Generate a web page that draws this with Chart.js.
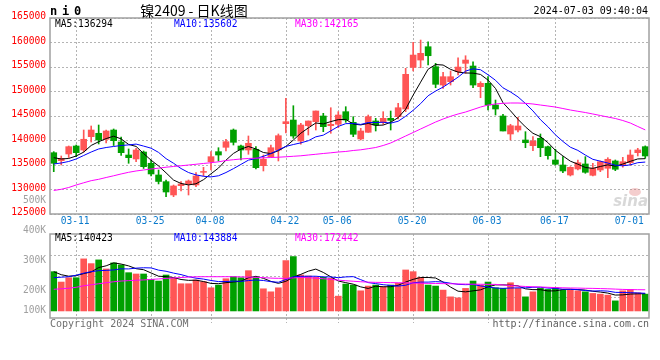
<!DOCTYPE html>
<html><head><meta charset="utf-8">
<script src="https://cdn.jsdelivr.net/npm/chart.js@4.4.1/dist/chart.umd.min.js"></script>
<style>
html,body{margin:0;padding:0;background:#fff;}
#wrap{position:relative;width:660px;height:360px;overflow:hidden;}
canvas{position:absolute;left:0;top:0;}
</style></head><body>
<div id="wrap"><canvas id="main" width="660" height="360"></canvas><canvas id="vol" width="660" height="360"></canvas></div>
<script>
// ---------------- data ----------------
const dates = ['03-06','03-07','03-08','03-11','03-12','03-13','03-14','03-15','03-18','03-19','03-20','03-21','03-22',
'03-25','03-26','03-27','03-28','03-29','04-01','04-02','04-03','04-08','04-09','04-10','04-11','04-12',
'04-15','04-16','04-17','04-18','04-19','04-22','04-23','04-24','04-25','04-26','04-29','04-30',
'05-06','05-07','05-08','05-09','05-10','05-13','05-14','05-15','05-16','05-17','05-20','05-21','05-22','05-23','05-24',
'05-27','05-28','05-29','05-30','05-31','06-03','06-04','06-05','06-06','06-07','06-11','06-12','06-13','06-14',
'06-17','06-18','06-19','06-20','06-21','06-24','06-25','06-26','06-27','06-28','07-01','07-02','07-03'];

const openP = [137510,135880,137250,138880,138060,140780,141470,140250,142140,139690,
137040,136230,137650,135350,132960,131600,128880,130780,131130,130920,
133510,135680,137720,138610,142140,138880,138060,138210,134860,136700,
138060,143430,144180,139900,143020,143840,145000,143020,143310,145880,
143710,140310,141670,143980,143710,144530,144860,146430,154930,156420,
159140,155060,151320,152000,154040,155750,155200,150980,151670,147240,
145000,141330,142140,140100,138940,140450,138740,136020,135000,132960,
134190,135210,132900,133980,134330,135820,135000,135470,137510,138740];

const highP = [137720,136840,138880,139080,142140,142960,143160,142140,142350,140710,
138270,138410,137860,136020,133980,131940,130920,131600,131940,133430,
134530,137720,138530,140250,142350,139080,140920,138740,137040,139080,
141330,148610,147100,143510,143980,146020,145550,146690,145880,146900,
144860,142490,145200,144530,145880,146020,147590,154730,160030,160500,
160160,155750,153910,154180,156890,157300,156080,152000,153020,148260,
145350,143310,144730,141800,140780,141330,138880,138210,136700,134660,
136020,136700,135350,135820,136490,136020,136570,138060,138410,138900];

const lowP = [133640,135000,136530,136700,137650,139690,139290,139490,138980,136940,
135350,135680,134290,132760,131130,128540,128540,129700,128880,130580,
132760,133980,135820,137860,139080,136020,137190,134190,133780,136700,
135820,141530,140450,139230,141120,142140,141800,141470,142610,143710,
140780,140100,141670,141940,143310,142140,144390,145880,154180,154850,
155400,150770,150650,151320,153360,153710,150770,148730,146220,145200,
141940,140100,141730,138530,137920,136700,136170,135000,133430,132760,
133980,133310,132760,133640,132410,133840,134550,135000,136840,136370];

const closeP = [135350,136330,138740,137510,140250,142140,140100,141940,139960,137510,
136490,138060,134660,133170,131640,129490,130720,131130,131740,132760,
133680,136700,137040,139760,139630,138060,139430,134450,136170,138530,
140980,143840,140920,143160,143980,146020,142820,143310,145200,144180,
141270,141940,144860,143160,144530,144120,146690,153510,157440,157790,
157300,151470,153020,153020,154990,156420,151320,151670,147240,146430,
141940,143020,142960,139550,139900,138530,136900,135150,133780,134530,
135470,133510,134330,135680,136170,134130,135680,137040,138070,136840];

const ma5 = [136490,136230,136330,136840,137630,138990,139750,140390,140880,140330,
139200,138790,137340,135980,134800,133400,131930,131230,130940,131170,
132000,133200,134380,135990,137360,138240,138780,138270,137550,137330,
137910,138790,140090,141490,142570,143580,143380,143860,144260,144300,
143350,143180,143490,143080,143150,143720,144670,146400,149260,151910,
154550,155500,155400,154520,153960,153780,153750,153480,152330,150620,
147720,146060,144320,142780,141470,140790,139570,138000,136850,135780,
135170,134490,134320,134700,135030,134760,135190,135740,136240,136294];

const ma10 = [135210,135410,135720,136230,136940,137650,138270,138570,138780,138980,
139100,139270,138860,138430,137570,136300,135360,134280,133460,132980,
132700,132570,132800,133460,134260,135120,135990,136320,136770,137340,
138070,138790,139180,139520,139950,140750,141090,141970,142870,143440,
143470,143280,143670,143670,143730,143540,143930,144950,146170,147530,
149130,150090,150900,151890,152930,154160,154630,154440,153420,152290,
150750,149910,148900,147550,146040,144260,142810,141160,139810,138630,
137980,137030,136160,135780,135400,134960,134840,135030,135470,135602];

const ma30 = [129800,130040,130410,130920,131370,131800,132080,132450,132800,133170,
133510,133780,133980,134190,134350,134550,134700,134840,135000,135150,
135310,135470,135650,135920,136080,136230,136330,136390,136470,136530,
136590,136680,136780,136880,137040,137190,137350,137490,137650,137760,
137960,138100,138330,138570,138980,139490,140200,140920,141630,142350,
143060,143770,144390,144940,145410,145810,146320,146830,147240,147450,
147590,147650,147650,147590,147450,147240,147040,146830,146530,146220,
145960,145710,145410,145100,144790,144490,144080,143570,142860,142165];

const volume = [319800,235340,270600,270600,423940,385400,415740,341940,391140,374740,
311600,300940,300940,257480,243540,292740,265680,221400,221400,251740,
237800,188600,210740,262400,278800,270600,328000,270600,180400,155800,
188600,410000,442800,292740,284540,273880,273880,265680,120540,218940,
210740,164000,202540,210740,196800,210740,224680,333740,319800,273880,
210740,202540,169740,114800,106600,183680,243540,210740,235340,188600,
183680,229600,183680,114800,155800,183680,175480,188600,169740,169740,
164000,155800,142680,136940,128740,82000,164000,175480,147600,136940];

const volMa5 = [319800,295200,282900,287000,304060,317180,353260,367520,391630,381790,
367030,344070,335870,309140,282900,279130,272080,256170,248950,250590,
239600,224190,222060,230260,235670,242230,270110,282080,265680,241080,
224680,241080,275520,297990,323740,340790,313570,278140,243700,230580,
217960,195980,183350,201390,196960,196960,209100,235340,257150,272570,
272570,268140,235340,194340,160880,155470,163670,171870,195980,212380,
212380,209590,204180,180070,173510,173510,162690,163670,174660,177450,
173510,169580,160390,153830,145630,129230,130870,137430,139560,140423];

const volMa10 = [270600,274700,278800,291100,307500,319800,328000,330460,333740,342920,
342100,348660,351700,350390,332350,323080,308070,296020,279050,266750,
259370,248130,239110,239600,243130,240920,247150,252070,247970,238370,
233450,255590,278800,281830,282410,282740,277320,276830,270850,277160,
279370,254770,230750,222550,213770,207460,202540,209350,229270,234770,
234770,238620,235340,225750,216730,214020,215910,203610,195160,186630,
183930,186630,188030,188030,192950,192950,186140,183930,177370,175480,
173510,166130,162030,164250,161540,151370,150220,148910,146700,143884];

const volMa30 = [176300,180400,184500,192700,205000,213200,221400,229600,237800,243540,
246820,250100,252560,256660,260760,264860,268140,272240,275520,277980,
278800,278800,278800,278800,278800,277160,275520,273880,271420,267320,
265680,265680,268960,272240,270600,267320,262400,257480,250920,246000,
241900,237800,234520,232880,232060,230420,229600,228780,227140,225500,
224680,223860,222220,221400,219760,218940,218120,217300,216480,216480,
211560,206640,202540,199260,196800,195160,192700,190240,188600,186960,
186140,184500,183680,182040,180400,177940,175480,173840,173020,172442];

const dateLabels = ['03-11','03-25','04-08','04-22','05-06','05-20','06-03','06-17','07-01'];
const gridDates  = ['03-11','03-25','04-08','04-22','05-06','05-20','06-03','06-17'];
const priceMin = 125000, priceMax = 165000, priceStep = 5000;
const volTickLabels = ['500K','400K','300K','200K','100K'];
const volMin = -57400, volMax = 626500;

const titleCode = 'ni0';
const titleText = '镍2409 - 日K线图';
const stampText = '2024-07-03 09:40:04';
const copyText = 'Copyright 2024 SINA.COM';
const urlText = 'http://finance.sina.com.cn';

// ---------------- style ----------------
const MONO = '"DejaVu Sans Mono", monospace';
const UP = '#ff5555', DOWN = '#00a000';
const GRID = '#b4b4b4', FRAME = '#a0a0a0';
const C5 = '#000000', C10 = '#0000ff', C30 = '#ff00ff';
const candleColors = closeP.map((c, i) => c >= openP[i] ? UP : DOWN);

function txt(ctx, s, x, y, color, font, align) {
  ctx.save();
  ctx.fillStyle = color; ctx.font = font; ctx.textAlign = align || 'left'; ctx.textBaseline = 'middle';
  ctx.fillText(s, x, y);
  ctx.restore();
}
function dottedV(ctx, x, y0, y1) {
  ctx.save();
  ctx.strokeStyle = GRID; ctx.lineWidth = 1; ctx.setLineDash([2, 2]);
  const px = Math.round(x) + 0.5;
  ctx.beginPath(); ctx.moveTo(px, y0); ctx.lineTo(px, y1); ctx.stroke();
  ctx.restore();
}
function frame(ctx, a) {
  ctx.save();
  ctx.strokeStyle = FRAME; ctx.lineWidth = 1.5;
  ctx.strokeRect(a.left, a.top, a.right - a.left, a.bottom - a.top);
  ctx.restore();
}
const fmt = v => String(Math.round(v));
const last = arr => arr[arr.length - 1];

const lineDs = (data, color) => ({type: 'line', data, borderColor: color, borderWidth: 1,
  pointRadius: 0, tension: 0, fill: false, order: 1});

// ---------------- main (price) chart ----------------
const mainDecor = {
  id: 'mainDecor',
  beforeDatasetsDraw(chart) {
    const {ctx, chartArea: a, scales: {x}} = chart;
    gridDates.forEach(d => dottedV(ctx, x.getPixelForValue(dates.indexOf(d)), a.top, a.bottom));
  },
  afterDraw(chart) {
    const {ctx, chartArea: a, scales: {x}} = chart;
    frame(ctx, a);
    // title
    for (let i = 0; i < titleCode.length; i++) {
      txt(ctx, titleCode[i], a.left + i * 12, 11.5, '#000', 'bold 12px ' + MONO, 'left');
    }
    txt(ctx, titleText, 194, 11, '#000', '14px "Noto Sans CJK SC", sans-serif', 'center');
    txt(ctx, stampText, a.right - 1, 11.5, '#000', '10px ' + MONO, 'right');
    // MA header
    const hf = '9.6px ' + MONO;
    txt(ctx, 'MA5:' + fmt(last(ma5)), a.left + 5, a.top + 6, C5, hf);
    txt(ctx, 'MA10:' + fmt(last(ma10)), a.left + 124, a.top + 6, C10, hf);
    txt(ctx, 'MA30:' + fmt(last(ma30)), a.left + 245, a.top + 6, C30, hf);
    // date labels
    dateLabels.forEach(d => {
      txt(ctx, d, x.getPixelForValue(dates.indexOf(d)) - 1, a.bottom + 7.5, '#0a7acc', '9.6px ' + MONO, 'center');
    });
    // watermark
    ctx.save();
    ctx.globalAlpha = 0.35;
    ctx.fillStyle = '#e07070';
    ctx.beginPath(); ctx.ellipse(a.right - 14, a.bottom - 22, 6, 4, 0, 0, Math.PI * 2); ctx.fill();
    ctx.fillStyle = '#909090';
    ctx.font = 'italic bold 15px "DejaVu Sans", sans-serif';
    ctx.textAlign = 'right'; ctx.textBaseline = 'alphabetic';
    ctx.fillText('sina', a.right - 1, a.bottom - 8);
    ctx.restore();
  }
};

new Chart(document.getElementById('main'), {
  type: 'bar',
  data: {
    labels: dates,
    datasets: [
      {type: 'bar', data: lowP.map((l, i) => [l, highP[i]]), backgroundColor: candleColors,
        barThickness: 1, grouped: false, order: 3},
      {type: 'bar', data: openP.map((o, i) => [o, closeP[i]]), backgroundColor: candleColors,
        barThickness: 6, grouped: false, order: 2},
      lineDs(ma30, C30),
      lineDs(ma10, C10),
      lineDs(ma5, C5)
    ]
  },
  options: {
    responsive: false, animation: false, events: [],
    layout: {padding: {left: 0, right: 11, top: 18, bottom: 146}},
    plugins: {legend: {display: false}, tooltip: {enabled: false}},
    scales: {
      x: {display: false, offset: true},
      y: {
        min: priceMin, max: priceMax,
        afterFit: s => { s.width = 50; },
        ticks: {stepSize: priceStep, color: '#ff0000', padding: 4, labelOffset: -1.5,
          font: {family: 'DejaVu Sans Mono', size: 9.6}, callback: v => String(v)},
        grid: {color: GRID, lineWidth: 1, drawTicks: false},
        border: {display: false, dash: [2, 2]}
      }
    }
  },
  plugins: [mainDecor]
});

// ---------------- volume chart ----------------
const volDecor = {
  id: 'volDecor',
  beforeDatasetsDraw(chart) {
    const {ctx, chartArea: a, scales: {x}} = chart;
    gridDates.forEach(d => dottedV(ctx, x.getPixelForValue(dates.indexOf(d)), a.top, a.bottom + 5));
  },
  afterDraw(chart) {
    const {ctx, chartArea: a} = chart;
    frame(ctx, a);
    const hf = '9.6px ' + MONO;
    txt(ctx, 'MA5:' + fmt(last(volMa5)), a.left + 5, a.top + 4.5, C5, hf);
    txt(ctx, 'MA10:' + fmt(last(volMa10)), a.left + 124, a.top + 4.5, C10, hf);
    txt(ctx, 'MA30:' + fmt(last(volMa30)), a.left + 245, a.top + 4.5, C30, hf);
    // volume axis labels (as printed by the source)
    const offs = [-33.5, -3.3, 26.6, 56.3, 76];
    volTickLabels.forEach((s, i) => txt(ctx, s, a.left - 4, a.top + offs[i], '#a0a0a0', '9.6px ' + MONO, 'right'));
    txt(ctx, copyText, a.left, a.bottom + 6.5, '#707070', '10px ' + MONO, 'left');
    txt(ctx, urlText, a.right, a.bottom + 6.5, '#606060', '10px ' + MONO, 'right');
  }
};

new Chart(document.getElementById('vol'), {
  type: 'bar',
  data: {
    labels: dates,
    datasets: [
      {type: 'bar', data: volume, backgroundColor: candleColors, barThickness: 6, grouped: false, order: 2},
      lineDs(volMa30, C30),
      lineDs(volMa10, C10),
      lineDs(volMa5, C5)
    ]
  },
  options: {
    responsive: false, animation: false, events: [],
    layout: {padding: {left: 0, right: 11, top: 234, bottom: 42}},
    plugins: {legend: {display: false}, tooltip: {enabled: false}},
    scales: {
      x: {display: false, offset: true},
      y: {
        min: volMin, max: volMax,
        afterFit: s => { s.width = 50; },
        afterBuildTicks: s => {
          const step = (volMax - volMin) / 4;
          s.ticks = [1, 2, 3].map(k => ({value: volMin + k * step}));
        },
        ticks: {display: false},
        grid: {color: GRID, lineWidth: 1, drawTicks: false},
        border: {display: false, dash: [2, 2]}
      }
    }
  },
  plugins: [volDecor]
});
</script>
</body></html>
